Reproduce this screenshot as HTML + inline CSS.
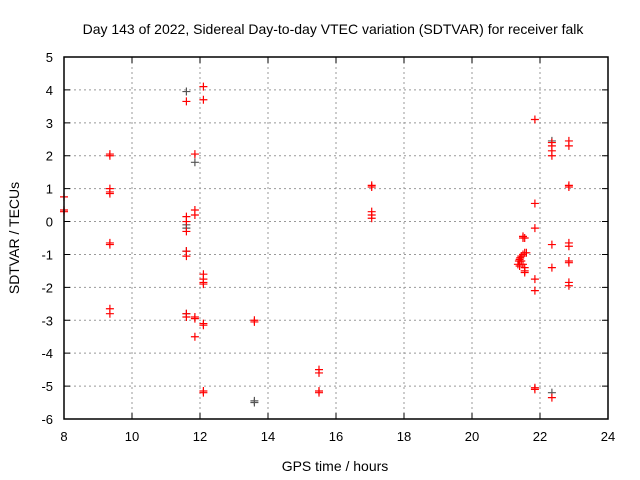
<!DOCTYPE html>
<html><head><meta charset="utf-8"><style>
body{margin:0;background:#fff}
svg{display:block;font-family:"Liberation Sans",sans-serif}
</style></head><body>
<svg id="chart" width="640" height="480">
<text x="333" y="34" text-anchor="middle" font-size="14">Day 143 of 2022, Sidereal Day-to-day VTEC variation (SDTVAR) for receiver falk</text>
<text x="335" y="471" text-anchor="middle" font-size="14">GPS time / hours</text>
<text transform="translate(19,238) rotate(-90)" text-anchor="middle" font-size="14">SDTVAR / TECUs</text>
<g id="grid"></g><g id="ticks"></g><g id="pts"></g>
<rect x="64" y="57" width="544" height="362" fill="none" stroke="#000" stroke-width="1.5"/>
</svg>
<script>
const xTicks=[8,10,12,14,16,18,20,22,24];
const yTicks=[5,4,3,2,1,0,-1,-2,-3,-4,-5,-6];
const redHours=[8,8,8,9.35,9.35,9.35,9.35,9.35,9.35,9.35,9.35,9.35,11.6,11.6,11.6,11.6,11.6,11.6,11.6,11.6,11.85,11.85,11.85,11.85,11.85,11.85,12.1,12.1,12.1,12.1,12.1,12.1,12.1,12.1,12.1,12.1,13.6,13.6,15.5,15.5,15.5,15.5,17.05,17.05,17.05,17.05,17.05,21.85,21.85,21.85,21.85,21.85,21.85,21.85,22.35,22.35,22.35,22.35,22.35,22.35,22.35,22.85,22.85,22.85,22.85,22.85,22.85,22.85,22.85,22.85,22.85,21.5,21.55,21.5,21.55,21.5,21.45,21.42,21.4,21.38,21.35,21.4,21.5,21.55,21.55,21.55,21.6,21.45];
const redValues=[0.75,0.35,0.3,2.05,2.0,1.0,0.9,0.85,-0.65,-0.7,-2.65,-2.8,3.65,0.15,0.0,-0.3,-0.9,-1.05,-2.8,-2.9,2.05,0.35,0.2,-2.9,-2.95,-3.5,4.1,3.7,-1.6,-1.75,-1.85,-1.9,-3.1,-3.15,-5.15,-5.2,-3.0,-3.05,-4.5,-4.6,-5.15,-5.2,1.1,1.05,0.3,0.2,0.1,3.1,0.55,-0.2,-1.75,-2.1,-5.05,-5.1,2.4,2.3,2.15,2.0,-0.7,-1.4,-5.35,2.45,2.3,1.1,1.05,-0.65,-0.75,-1.2,-1.25,-1.85,-1.95,-0.5,-0.5,-0.45,-0.95,-1.0,-1.05,-1.1,-1.15,-1.2,-1.3,-1.35,-1.3,-1.4,-1.5,-1.55,-0.95,-1.2];
const greyHours=[11.6,11.85,11.6,11.6,11.6,11.6,13.6,13.6,22.35,22.35];
const greyValues=[3.95,1.8,-0.1,-0.2,-0.9,-2.8,-5.45,-5.5,2.45,-5.2];
const NS='http://www.w3.org/2000/svg';
const X=h=>64+(h-8)*34, Y=v=>57+(5-v)*(362/11);
const grid=document.getElementById('grid'),ticks=document.getElementById('ticks'),pts=document.getElementById('pts');
function mk(t,a,p){const e=document.createElementNS(NS,t);for(const k in a)e.setAttribute(k,a[k]);p.appendChild(e);return e;}
xTicks.forEach(t=>{
 if(t>8&&t<24){const l=mk('line',{x1:X(t),x2:X(t),y1:57,y2:419,stroke:'#999','stroke-dasharray':'2,3'},grid);
 
 }
 const tm=mk('path',{d:`M${X(t)},419v-6M${X(t)},57v6`,stroke:'#000'},ticks);
 
 
 const tx=mk('text',{x:X(t),y:441,'text-anchor':'middle','font-size':13},ticks);tx.textContent=t;
 
 
});
yTicks.forEach(t=>{
 if(t<5&&t>-6){const l=mk('line',{x1:64,x2:608,y1:Y(t),y2:Y(t),stroke:'#999','stroke-dasharray':'2,3'},grid);
 
 }
 const tm=mk('path',{d:`M64,${Y(t)}h6M608,${Y(t)}h-6`,stroke:'#000'},ticks);
 
 
 const tx=mk('text',{x:53,y:Y(t)+5,'text-anchor':'end','font-size':13},ticks);tx.textContent=t;
 
 
});
function plus(h,v,c,name){const x=X(h),y=Y(v);
 const p=mk('path',{d:`M${x-4},${y}H${x+4}M${x},${y-4}V${y+4}`,stroke:c,'stroke-width':1.2,fill:'none'},pts);
 
 }
greyHours.forEach((h,i)=>plus(h,greyValues[i],'#555','grey-point'));
redHours.forEach((h,i)=>plus(h,redValues[i],'#f00','red-point'));
</script>
</body></html>
